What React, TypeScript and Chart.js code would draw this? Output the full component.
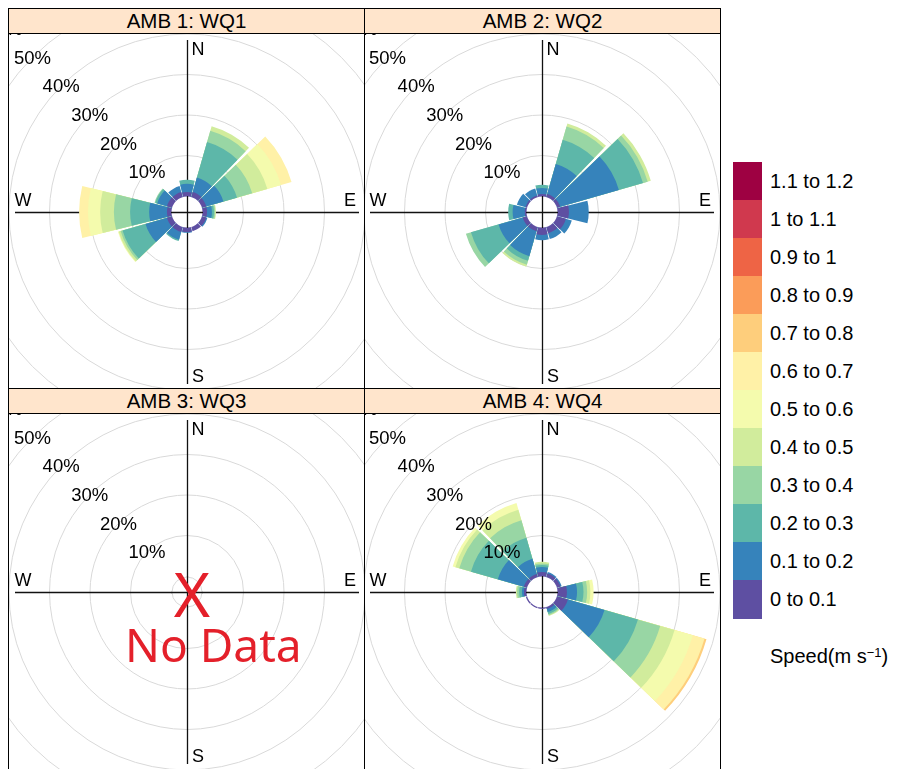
import React, { useEffect, useRef } from "react";
import { Chart, registerables } from "chart.js";

Chart.register(...registerables);

// ---------- data ----------
const DIRECTIONS = [0, 30, 60, 90, 120, 150, 180, 210, 240, 270, 300, 330];
const SPEED_BINS = [
  "0 to 0.1", "0.1 to 0.2", "0.2 to 0.3", "0.3 to 0.4", "0.4 to 0.5", "0.5 to 0.6",
  "0.6 to 0.7", "0.7 to 0.8", "0.8 to 0.9", "0.9 to 1", "1 to 1.1", "1.1 to 1.2",
];
const SPEED_COLOURS = [
  "#5E4FA2", "#3683BB", "#5DB7A9", "#98D6A4", "#D1EC9C", "#F4FBAD",
  "#FFF1A7", "#FECE7C", "#FB9C59", "#EE6445", "#D0394E", "#9E0142",
];
const RING_VALUES = [10, 20, 30, 40, 50, 60];
const RING_LABELS = ["10%", "20%", "30%", "40%", "50%", "60%"];
const COMPASS_LABELS = ["N", "E", "S", "W"];
const PANEL_TITLES = ["AMB 1: WQ1", "AMB 2: WQ2", "AMB 3: WQ3", "AMB 4: WQ4"];
const NO_DATA_MARK = "X";
const NO_DATA_TEXT = "No Data";
const LEGEND_TITLE = "Speed(m s";
const LEGEND_TITLE_SUP = "\u22121";

// frequency (%) of each speed bin, one row per direction (N, 30, 60, E, ... 330)
const WQ1 = [
  [1.0, 2.0, 1.0],
  [1.2, 3.7, 9.1, 2.9, 1.2],
  [1.0, 4.4, 3.5, 3.9, 3.9, 3.5, 2.7],
  [1.0, 1.2, 0.5, 0.3, 0.2],
  [1.0, 0.3],
  [1.0],
  [1.0, 0.2],
  [1.2, 2.0, 0.3],
  [1.2, 5.5, 5.9, 0.5, 0.5, 0.2],
  [1.0, 4.4, 4.7, 4.0, 3.4, 3.0, 2.2],
  [1.2, 2.5, 0.5, 0.2],
  [1.2, 1.5],
];
const WQ2 = [
  [0.5, 1.5, 0.8],
  [0.7, 7.7, 6.2, 3.4, 0.8],
  [0.7, 15.1, 6.2, 1.2, 0.8],
  [2.7, 4.9],
  [2.2, 1.5],
  [1.5, 1.5],
  [1.7, 1.3],
  [1.0, 6.4, 1.2, 1.0, 0.5],
  [1.0, 6.2, 7.1, 1.3],
  [0.3, 3.0, 1.1],
  [0.3, 2.2],
  [0.3, 1.8],
];
const WQ3: number[][] = [];
const WQ4 = [
  [1.0, 1.2, 0.5, 0.4, 0.4],
  [0.8, 0.4],
  [0.8, 0.3],
  [2.2, 2.5, 1.6, 0.9, 0.8, 0.8],
  [2.7, 9.4, 8.6, 5.7, 3.7, 4.7, 3.0, 0.5],
  [0.4, 0.8, 0.5, 0.3, 0.2],
  [0.2],
  [0.2],
  [0.2],
  [0.5, 0.5, 0.7, 0.5, 0.3],
  [0.7, 6.7, 6.9, 3.0, 1.0, 0.7],
  [0.7, 3.9, 5.4, 4.5, 2.7, 1.7],
];

// ---------- geometry / style ----------
const HALF = 280; // canvas half size
const PX_PER_PCT = 4.05;
const CALM_OFFSET = 16 / PX_PER_PCT; // calm circle, in % units
const SCALE_MIN = -CALM_OFFSET;
const SCALE_MAX = HALF / PX_PER_PCT - CALM_OFFSET;
const AXIS_LIMIT = (172 - 16) / PX_PER_PCT;
const WEDGE_ANGLE = 28;
const GAP_ANGLE = 2;
const FONT = "'Liberation Sans', Arial, sans-serif";

function buildDatasets(freq: number[][]) {
  const nBins = freq.reduce((m, f) => Math.max(m, f.length), 0);
  const datasets: any[] = [];
  for (let k = 0; k < nBins; k++) {
    const data: number[] = [];
    const angles: number[] = [];
    freq.forEach((f) => {
      let cum = SCALE_MIN;
      if (k < f.length) cum = f.slice(0, k + 1).reduce((a, b) => a + b, 0);
      data.push(cum, SCALE_MIN);
      angles.push(WEDGE_ANGLE, GAP_ANGLE);
    });
    datasets.push({
      label: SPEED_BINS[k],
      data,
      angle: angles,
      backgroundColor: SPEED_COLOURS[k],
      borderWidth: 0,
    });
  }
  return datasets;
}

function makeRosePlugin(noData: boolean) {
  return {
    id: "windRose",
    beforeDatasetsDraw(chart: any) {
      const s = chart.scales.r;
      const ctx = chart.ctx;
      const ext = s.getDistanceFromCenterForValue(AXIS_LIMIT);
      const x0 = s.xCenter + 0.5;
      const y0 = s.yCenter + 0.5;
      ctx.save();
      ctx.strokeStyle = "#111";
      ctx.lineWidth = 1.3;
      ctx.beginPath();
      ctx.moveTo(s.xCenter - ext, y0);
      ctx.lineTo(s.xCenter + ext, y0);
      ctx.moveTo(x0, s.yCenter - ext);
      ctx.lineTo(x0, s.yCenter + ext);
      ctx.stroke();
      ctx.restore();
    },
    afterDatasetsDraw(chart: any) {
      const s = chart.scales.r;
      const ctx = chart.ctx;
      const cx = s.xCenter;
      const cy = s.yCenter;
      const r0 = s.getDistanceFromCenterForValue(0);
      const ext = s.getDistanceFromCenterForValue(AXIS_LIMIT);
      ctx.save();
      // calm circle
      ctx.fillStyle = "#fff";
      ctx.beginPath();
      ctx.arc(cx, cy, r0 - 0.5, 0, Math.PI * 2);
      ctx.fill();
      if (noData) {
        ctx.strokeStyle = "#d9d9d9";
        ctx.lineWidth = 1;
        ctx.beginPath();
        ctx.arc(cx, cy, r0 - 1, 0, Math.PI * 2);
        ctx.stroke();
      }
      ctx.strokeStyle = "#111";
      ctx.lineWidth = 1.3;
      ctx.beginPath();
      ctx.moveTo(cx - r0, cy + 0.5);
      ctx.lineTo(cx + r0, cy + 0.5);
      ctx.moveTo(cx + 0.5, cy - r0);
      ctx.lineTo(cx + 0.5, cy + r0);
      ctx.stroke();

      // ring labels on the NW diagonal
      ctx.fillStyle = "#000";
      ctx.font = `18.5px ${FONT}`;
      ctx.textAlign = "center";
      ctx.textBaseline = "middle";
      const diag = Math.SQRT1_2;
      RING_VALUES.forEach((v, i) => {
        const d = s.getDistanceFromCenterForValue(v);
        ctx.fillText(RING_LABELS[i], cx - d * diag, cy - d * diag + 1);
      });

      // compass labels
      ctx.font = `18px ${FONT}`;
      ctx.fillText(COMPASS_LABELS[0], cx + 11, cy - ext + 10);
      ctx.fillText(COMPASS_LABELS[1], cx + ext - 9, cy - 11);
      ctx.fillText(COMPASS_LABELS[2], cx + 11, cy + ext - 7);
      ctx.fillText(COMPASS_LABELS[3], cx - ext + 8, cy - 11);

      if (noData) {
        ctx.fillStyle = "#E4202A";
        ctx.textBaseline = "alphabetic";
        ctx.textAlign = "center";
        ctx.font = `62px 'Noto Sans', sans-serif`;
        ctx.fillText(NO_DATA_MARK, cx + 5, cy + 25);
        ctx.textAlign = "left";
        ctx.font = `46px 'Noto Sans', sans-serif`;
        ctx.fillText(NO_DATA_TEXT, cx - 62, cy + 70);
      }
      ctx.restore();
    },
  };
}

type PanelProps = {
  title: string;
  freq: number[][];
  noData: boolean;
  left: number;
  top: number;
  height: number;
  cx: number;
  cy: number;
};

function RosePanel({ title, freq, noData, left, top, height, cx, cy }: PanelProps) {
  const ref = useRef<HTMLCanvasElement | null>(null);
  useEffect(() => {
    if (!ref.current) return;
    const labels = DIRECTIONS.flatMap((d) => [String(d), ""]);
    const chart = new Chart(ref.current, {
      type: "polarArea",
      data: { labels, datasets: buildDatasets(freq) },
      options: {
        responsive: false,
        animation: false,
        events: [],
        layout: { padding: 0 },
        plugins: { legend: { display: false }, tooltip: { enabled: false } },
        elements: { arc: { borderWidth: 0 } },
        scales: {
          r: {
            min: SCALE_MIN,
            max: SCALE_MAX,
            startAngle: -WEDGE_ANGLE / 2,
            ticks: { display: false },
            grid: { color: "#d9d9d9", lineWidth: 1, circular: true },
            angleLines: { display: false },
            pointLabels: { display: false },
            afterBuildTicks: (axis: any) => {
              axis.ticks = [SCALE_MIN, ...RING_VALUES].map((v) => ({ value: v }));
            },
          },
        },
      } as any,
      plugins: [makeRosePlugin(noData)],
    });
    return () => chart.destroy();
  }, [freq, noData]);

  const plotLeft = left + 1;
  const plotTop = top + 26;
  return (
    <>
      <div
        style={{
          position: "absolute",
          left: plotLeft,
          top: plotTop,
          width: 355,
          height: height - 27,
          overflow: "hidden",
          background: "#fff",
        }}
      >
        <canvas
          ref={ref}
          width={HALF * 2}
          height={HALF * 2}
          style={{ position: "absolute", left: cx - HALF - plotLeft, top: cy - HALF - plotTop, width: HALF * 2, height: HALF * 2 }}
        />
      </div>
      <div
        style={{
          position: "absolute",
          left,
          top,
          width: 357,
          height,
          border: "1px solid #000",
          boxSizing: "border-box",
          pointerEvents: "none",
        }}
      />
      <div
        style={{
          position: "absolute",
          left,
          top,
          width: 357,
          height: 26,
          border: "1px solid #000",
          boxSizing: "border-box",
          background: "#FFE5CC",
          fontFamily: FONT,
          fontSize: 20.5,
          lineHeight: "26px",
          textAlign: "center",
          color: "#000",
        }}
      >
        <span style={{ position: "relative", top: -1 }}>{title}</span>
      </div>
    </>
  );
}

export default function App() {
  const boxTop = 161.7;
  const boxH = 38.05;
  return (
    <div style={{ position: "relative", width: 901, height: 769, overflow: "hidden", background: "#fff" }}>
      <style>{"body{margin:0;background:#fff;}"}</style>
      <RosePanel title={PANEL_TITLES[0]} freq={WQ1} noData={false} left={8} top={8} height={381} cx={187} cy={212} />
      <RosePanel title={PANEL_TITLES[1]} freq={WQ2} noData={false} left={364} top={8} height={381} cx={542} cy={212} />
      <RosePanel title={PANEL_TITLES[2]} freq={WQ3} noData={true} left={8} top={388} height={382} cx={187} cy={592} />
      <RosePanel title={PANEL_TITLES[3]} freq={WQ4} noData={false} left={364} top={388} height={382} cx={542} cy={592} />

      {SPEED_BINS.map((lab, i) => {
        const k = SPEED_BINS.length - 1 - i;
        const y = boxTop + i * boxH;
        return (
          <React.Fragment key={lab}>
            <div
              style={{
                position: "absolute",
                left: 733,
                top: y,
                width: 29,
                height: boxH + 0.5,
                background: SPEED_COLOURS[k],
              }}
            />
            <div
              style={{
                position: "absolute",
                left: 770,
                top: y,
                height: boxH,
                lineHeight: `${boxH}px`,
                fontFamily: FONT,
                fontSize: 20,
                color: "#000",
                whiteSpace: "nowrap",
              }}
            >
              {SPEED_BINS[k]}
            </div>
          </React.Fragment>
        );
      })}
      <div
        style={{
          position: "absolute",
          left: 770,
          top: 642,
          fontFamily: FONT,
          fontSize: 20,
          lineHeight: "28px",
          color: "#000",
          whiteSpace: "nowrap",
        }}
      >
        {LEGEND_TITLE}
        <sup style={{ fontSize: 13, verticalAlign: "6px", lineHeight: 0 }}>{LEGEND_TITLE_SUP}</sup>)
      </div>
    </div>
  );
}
